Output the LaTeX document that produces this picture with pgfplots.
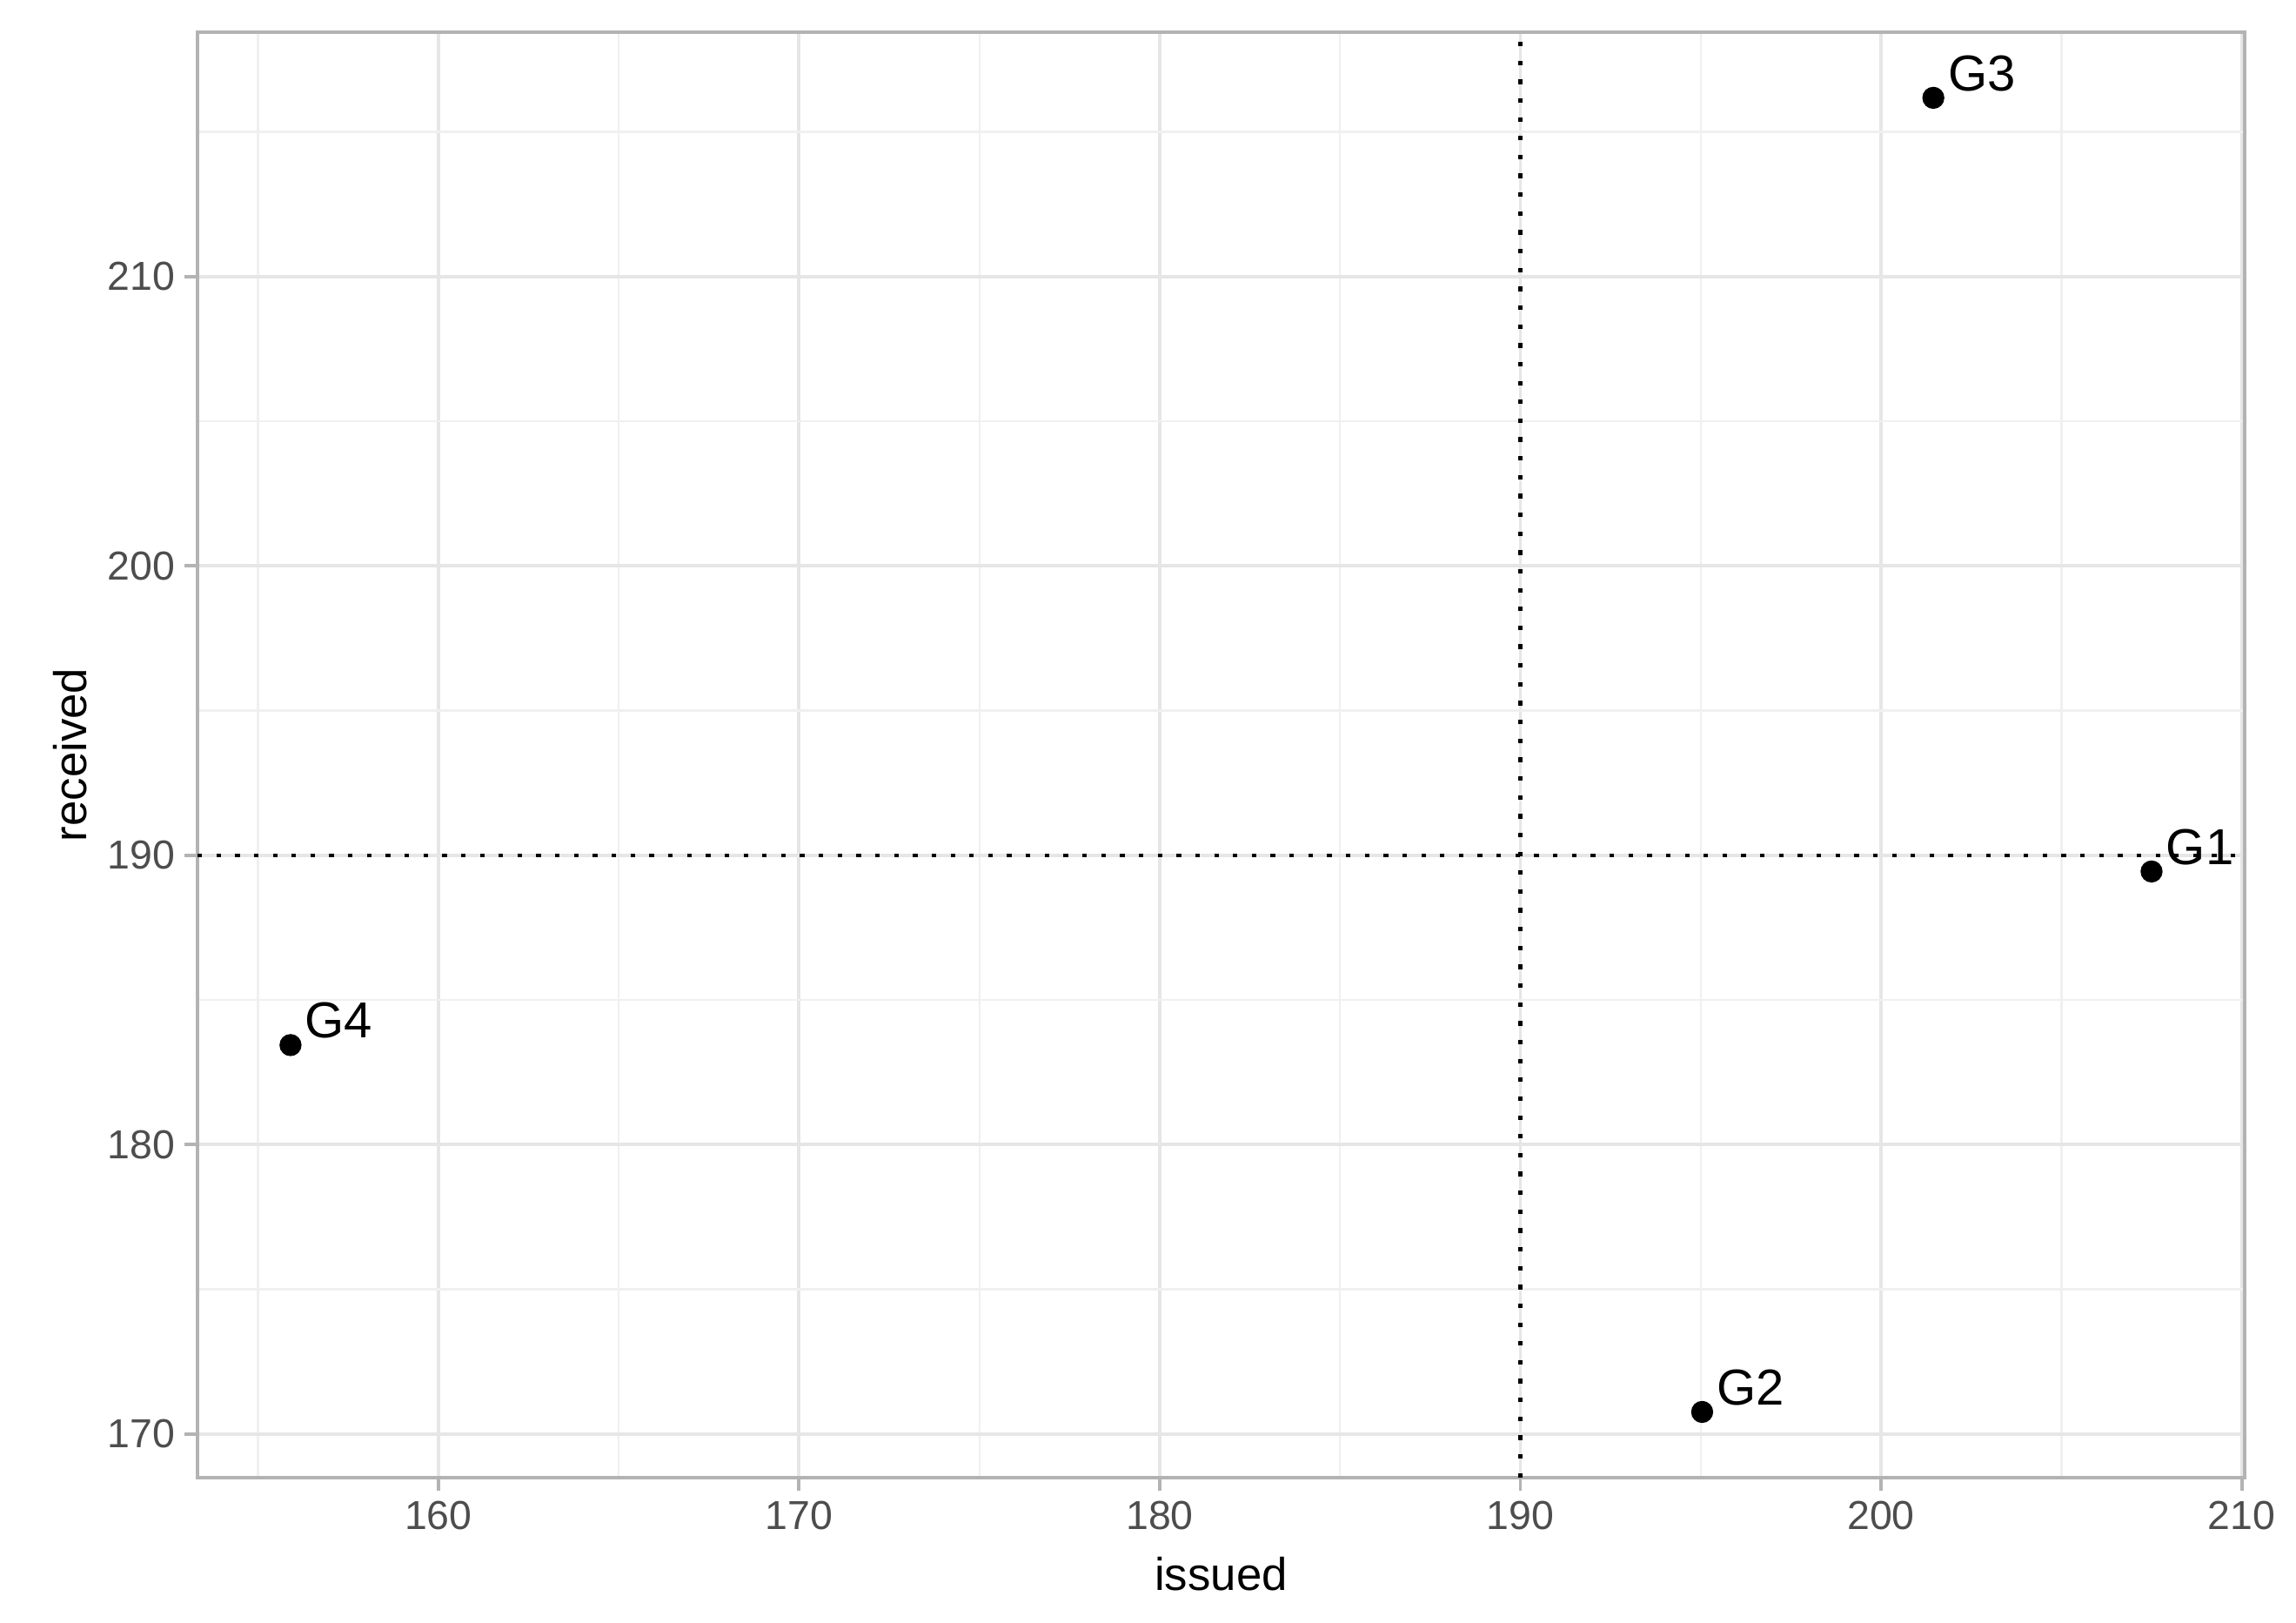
\documentclass[border=0pt]{standalone}
\usepackage{pgfplots}
\pgfplotsset{compat=1.18}
\usepackage{fontspec}
\setmainfont{Liberation Sans}
\definecolor{gridmaj}{HTML}{E6E6E6}
\definecolor{gridmin}{HTML}{F0F0F0}
\definecolor{frame}{HTML}{B3B3B3}
\definecolor{ticktext}{HTML}{4D4D4D}

\begin{document}
\begin{tikzpicture}
\begin{axis}[
    at={(0,0)}, anchor=south west,
    scale only axis,
    width=445.8pt, height=314.7pt,
    xmin=153.32, xmax=210.08,
    ymin=168.49, ymax=218.45,
    xtick={160,170,...,210},
    ytick={170,180,...,210},
    minor xtick={155,165,...,205},
    minor ytick={175,185,...,215},
    grid=both,
    major grid style={gridmaj, line width=0.75pt},
    minor grid style={gridmin, line width=0.45pt},
    axis line style={frame, line width=0.9pt},
    tick style={frame, line width=0.75pt},
    major tick length=2.8pt,
    minor tick length=0pt,
    tick align=outside,
    xtick pos=bottom, ytick pos=left,
    /pgf/number format/assume math mode=true,
    /pgf/number format/1000 sep={},
    tick label style={font=\fontsize{8.8}{10}\selectfont, text=ticktext},
    xticklabel style={yshift=1.2pt},
    yticklabel style={xshift=1.5pt},
    label style={font=\fontsize{11}{13}\selectfont},
    xlabel={issued}, ylabel={received},
    every axis x label/.style={at={(axis description cs:0.5,-0.0667)}, anchor=center},
    every axis y label/.style={at={(axis description cs:-0.0621,0.5)}, rotate=90, anchor=center},
    clip=false,
]
% reference lines
\addplot[black, line width=0.8pt, dash pattern=on 1pt off 3.1pt] coordinates {(190,168.49) (190,218.45)};
\addplot[black, line width=0.8pt, dash pattern=on 1pt off 3.1pt] coordinates {(153.32,190) (210.08,190)};
% groups
\addplot[only marks, mark=*, mark size=2.2pt, black,
    nodes near coords, point meta=explicit symbolic,
    every node near coord/.style={anchor=base west, inner sep=0pt, xshift=3pt, yshift=1.5pt, font=\fontsize{11}{13}\selectfont, text=black}]
    table[meta=label] {
x y label
207.5 189.44 G1
195.04 170.76 G2
201.45 216.18 G3
155.9 183.44 G4
};
\end{axis}
\pgfresetboundingbox
\path (-43pt,-31.5pt) rectangle (457pt,321.7pt);
\end{tikzpicture}
\end{document}
